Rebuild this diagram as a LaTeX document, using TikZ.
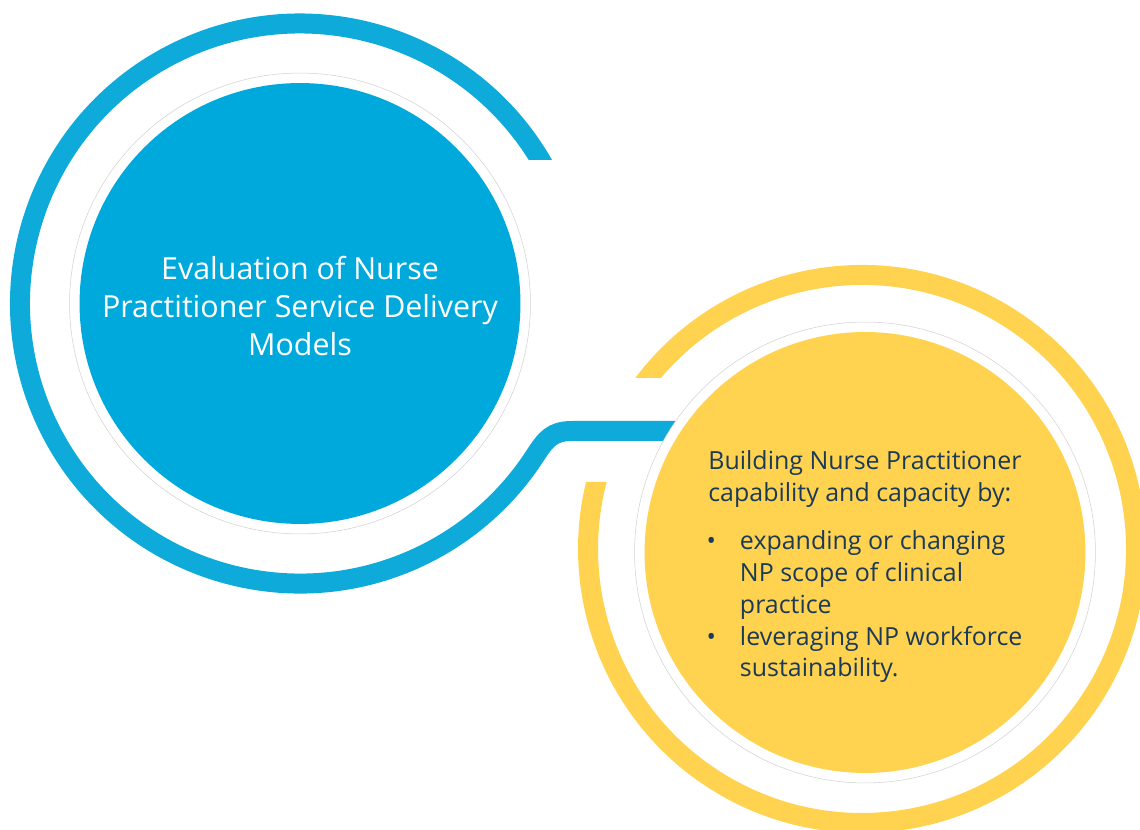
\documentclass[tikz,border=0pt]{standalone}
\usepackage{fontspec}
\setmainfont{Open Sans}
\definecolor{npBlue}{HTML}{00A9DC}
\definecolor{npRing}{HTML}{0EABDA}
\definecolor{npYellow}{HTML}{FFD24F}
\definecolor{npNavy}{HTML}{1B3A57}
\definecolor{npHalo}{HTML}{D2D2D2}
\tikzset{
  ringline/.style={line width=0.4cm},
  halo/.style={circle,draw=npHalo,line width=0.3pt,fill=white,minimum size=9.22cm,inner sep=0pt},
  disc/.style={circle,minimum size=8.82cm,inner sep=0pt},
}
\newcommand{\npitem}{\makebox[18pt][l]{\hspace*{-1pt}\textbullet}}
\newcommand{\npindent}{\hspace*{18pt}}
\begin{document}
\begin{tikzpicture}[x=0.02cm,y=0.02cm]
    \useasboundingbox (0,0) rectangle (1140,829);
    \clip (0,0) rectangle (1140,829);
    % blue ring running into the link
    \begin{scope}
        \clip (-10,-10) -- (1200,-10) -- (1200,420) -- (500,420) -- (500,669) -- (1200,669) -- (1200,900) -- (-10,900) -- cycle;
        \coordinate (evalTop) at (549.5,652.6);
        \draw[ringline,npRing] (evalTop) arc[start angle=27,end angle=327,radius=280] coordinate (evalBend)
            .. controls +(57:20) and +(-20,0) .. (572,398) coordinate (linkStart)
            -- (720,398) coordinate (linkEnd);
    \end{scope}
    % yellow ring, open where the link comes in
    \begin{scope}
        \clip (450,-10) -- (1200,-10) -- (1200,900) -- (450,900) -- (450,451) -- (720,451) -- (720,347) -- (450,347) -- cycle;
        \coordinate (buildTop) at (637.6,437.2);
        \draw[ringline,npYellow] (buildTop) arc[start angle=145,end angle=-198,radius=274];
    \end{scope}
    % circles
    \node[halo] (evalHalo) at (300,525.5) {};
    \node[halo] (buildHalo) at (865,276.5) {};
    \node[disc,fill=npBlue] (evalDisc) at (300,525.5) {};
    \node[disc,fill=npYellow] (buildDisc) at (865,276.5) {};
    % texts
    \node[text=white,align=center,font=\fontsize{17.3}{21.5}\selectfont] (evalText) at ([yshift=-0.05cm]evalDisc.center)
        {Evaluation of Nurse\\Practitioner Service Delivery\\Models};
    \node[anchor=north west,text=npNavy,align=left,inner sep=0pt,font=\fontsize{14.2}{18.1}\selectfont] (buildText) at (708,379)
        {Building Nurse Practitioner\\
         capability and capacity by:\\[9.5pt]
         \npitem expanding or changing\\
         \npindent NP scope of clinical\\
         \npindent practice\\
         \npitem leveraging NP workforce\\
         \npindent sustainability.};
\end{tikzpicture}
\end{document}
